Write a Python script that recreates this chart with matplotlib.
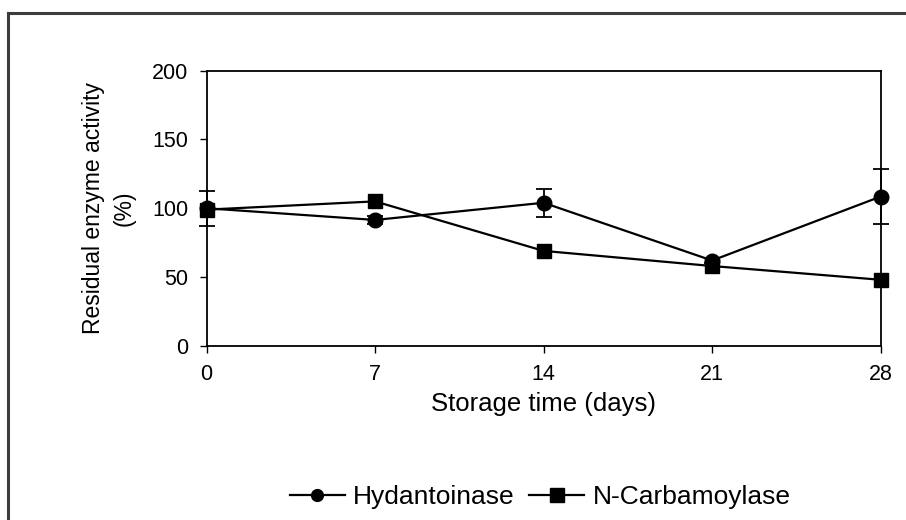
import matplotlib.pyplot as plt
from matplotlib.lines import Line2D

plt.rcParams['font.family'] = ['Liberation Sans', 'DejaVu Sans']

days = [0, 7, 14, 21, 28]
hydantoinase = [100, 91.5, 104, 62, 108.5]
hydantoinase_err = [12.7, 3, 10.3, 2, 20]
carbamoylase = [99, 105, 69, 58, 48]
y_ticks = [0, 50, 100, 150, 200]
series_names = ['Hydantoinase', 'N-Carbamoylase']

fig = plt.figure(figsize=(9.06, 5.2), dpi=100)
ax = fig.add_axes([0.228, 0.335, 0.744, 0.529])

ax.errorbar(days, hydantoinase, yerr=hydantoinase_err, color='black', lw=1.6,
            marker='o', ms=10.5, capsize=6, elinewidth=1.3, capthick=1.3,
            clip_on=False, zorder=3)
ax.plot(days, carbamoylase, color='black', lw=1.6, marker='s', ms=10.5,
        clip_on=False, zorder=3)

ax.set_xlim(0, 28)
ax.set_ylim(0, 200)
ax.set_xticks(days)
ax.set_yticks(y_ticks)
ax.tick_params(direction='out', length=5, width=1, labelsize=15.5, pad=8)
for s in ax.spines.values():
    s.set_linewidth(1.3)

ax.set_xlabel('Storage time (days)', fontsize=18.5, labelpad=5)
ax.set_ylabel('Residual enzyme activity\n(%)', fontsize=16.5, labelpad=12,
              linespacing=1.4)

handles = [Line2D([], [], color='black', lw=1.6, marker='o', ms=8.5),
           Line2D([], [], color='black', lw=1.6, marker='s', ms=10)]
fig.legend(handles, series_names, loc='center', bbox_to_anchor=(0.596, 0.044),
           ncol=2, frameon=False, fontsize=19, handlelength=2.1,
           handletextpad=0.3, columnspacing=0.55)

# outer frame running off the right and bottom edges
fig.add_artist(Line2D([8 / 906, 1.0], [1 - 13 / 520] * 2, color='#3c3c3c',
                      lw=2.2, transform=fig.transFigure))
fig.add_artist(Line2D([8 / 906] * 2, [0.0, 1 - 13 / 520], color='#3c3c3c',
                      lw=2.2, transform=fig.transFigure))

fig.savefig('out.png', dpi=100)
